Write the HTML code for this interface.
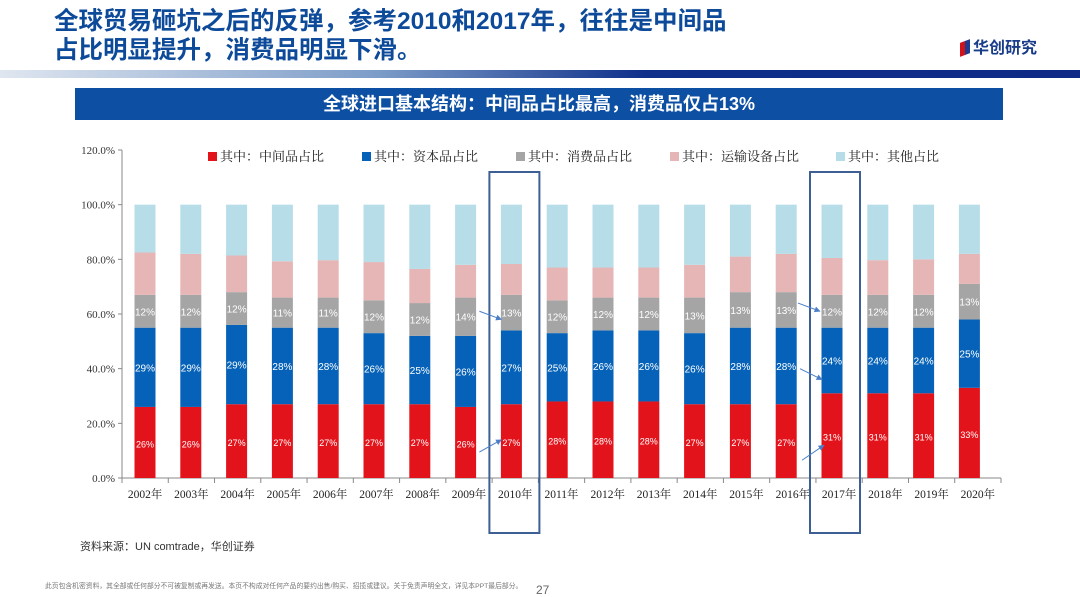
<!DOCTYPE html>
<html><head><meta charset="utf-8">
<style>
body{margin:0;width:1080px;height:597px;background:#fff;overflow:hidden;position:relative;font-family:"Liberation Sans","Noto Sans CJK SC",sans-serif}
.t{position:absolute;white-space:nowrap}
</style></head><body>
<div class="t" style="left:54px;top:7px;font-size:24.5px;line-height:29px;font-weight:bold;color:#0d4a9a;">全球贸易砸坑之后的反弹，参考2010和2017年，往往是中间品<br>占比明显提升，消费品明显下滑。</div>
<div class="t" style="left:960px;top:34px;font-size:16px;font-weight:bold;color:#1a3d8a;"><span style="display:inline-block;width:10px;height:14px;background:linear-gradient(90deg,#d0121b 50%,#1d3c8f 50%);vertical-align:-2px;margin-right:3px;transform:skewY(-20deg)"></span>华创研究</div>
<div style="position:absolute;left:0;top:70px;width:1080px;height:8px;background:linear-gradient(90deg,#dfe6f0 0%,#7c9cc8 35%,#0e2f8a 60%,#0e2a86 100%)"></div>
<div class="t" style="left:75px;top:88px;width:928px;height:32px;background:#0d4fa3;color:#fff;font-size:18px;font-weight:bold;line-height:32px;text-align:center;">全球进口基本结构：中间品占比最高，消费品仅占13%</div>
<svg id="chart" width="1080" height="597" style="position:absolute;left:0;top:0">
<defs><marker id="ah" viewBox="0 0 10 10" refX="9" refY="5" markerWidth="6" markerHeight="6" orient="auto"><path d="M0,0L10,5L0,10z" fill="#4a7fc8"/></marker></defs>
</svg>
<div class="t" style="left:80px;top:538px;font-size:11px;color:#333;">资料来源：UN comtrade，华创证券</div>
<div class="t" style="left:45px;top:580px;font-size:6.8px;color:#777;">此页包含机密资料，其全部或任何部分不可被复制或再发送。本页不构成对任何产品的要约出售/购买、招揽或建议。关于免责声明全文，详见本PPT最后部分。</div>
<div class="t" style="left:536px;top:583px;font-size:12px;color:#666;">27</div>
<script>
const years=["2002年","2003年","2004年","2005年","2006年","2007年","2008年","2009年","2010年","2011年","2012年","2013年","2014年","2015年","2016年","2017年","2018年","2019年","2020年"];
const intermediate=[26,26,27,27,27,27,27,26,27,28,28,28,27,27,27,31,31,31,33];
const capital=[29,29,29,28,28,26,25,26,27,25,26,26,26,28,28,24,24,24,25];
const consumer=[12,12,12,11,11,12,12,14,13,12,12,12,13,13,13,12,12,12,13];
const transport=[15.5,15,13.4,13.3,13.7,14,12.5,12,11.3,12,11,11,12,13,14,13.5,12.7,13,11];
const other=years.map((_,i)=>100-intermediate[i]-capital[i]-consumer[i]-transport[i]);
const yTicks=[0,20,40,60,80,100,120];
const seriesNames=["其中：中间品占比","其中：资本品占比","其中：消费品占比","其中：运输设备占比","其中：其他占比"];
const colors=["#e3131b","#0562b8","#a5a5a5","#e6b6b6","#b6dde8"];
const highlightYears=["2010年","2017年"];

const svg=document.getElementById('chart');
const NS="http://www.w3.org/2000/svg";
const x0=122,x1=1001,yb=478,yt=150;
const y=v=>yb-(v/120)*(yb-yt);
const lstep=(x1-x0)/years.length;
const bstep=45.8;
const cx=i=>145+bstep*i;
const lx_=i=>x0+lstep*(i+0.5);
const bw=21;
function mk(tag,attrs,name,txt){const e=document.createElementNS(NS,tag);for(const k in attrs)e.setAttribute(k,attrs[k]);


if(txt!==undefined)e.textContent=txt;svg.appendChild(e);return e;}
mk('line',{x1:x0,y1:yt,x2:x0,y2:yb,stroke:'#888','stroke-width':1},'y-axis-line');
mk('line',{x1:x0,y1:yb,x2:x1,y2:yb,stroke:'#888','stroke-width':1},'x-axis-line');
yTicks.forEach(t=>{
 mk('line',{x1:x0-4,y1:y(t),x2:x0,y2:y(t),stroke:'#888'},'y-tick');
 mk('text',{x:x0-7,y:y(t)+4,'text-anchor':'end','font-size':11,'font-family':'Liberation Serif,serif',fill:'#333'},'y-tick-label',t.toFixed(1)+'%');
});
for(let i=0;i<=years.length;i++)mk('line',{x1:x0+lstep*i,y1:yb,x2:x0+lstep*i,y2:yb+5,stroke:'#888'},'x-tick');
const series=[intermediate,capital,consumer,transport,other];
const labeled=[true,true,true,false,false];
years.forEach((yr,i)=>{
 let acc=0;
 series.forEach((s,k)=>{
  const v=s[i];const top=y(acc+v),bot=y(acc);
  mk('rect',{x:cx(i)-bw/2,y:top,width:bw,height:bot-top,fill:colors[k]},'bar-'+k+'-'+yr);
  if(labeled[k])mk('text',{x:cx(i),y:(top+bot)/2+(k==0?5:4),'text-anchor':'middle','font-size':k==0?9:10,fill:'#fff'},'bar-value-label',v+'%');
  acc+=v;
 });
 mk('text',{x:lx_(i),y:yb+20,'text-anchor':'middle','font-size':11.5,'font-family':'Liberation Serif,"Noto Serif CJK SC",serif',fill:'#222'},'x-tick-label',yr);
});
highlightYears.forEach(h=>{const i=years.indexOf(h);
 mk('rect',{x:cx(i)-22,y:172,width:50,height:361,fill:'none',stroke:'#3d5f94','stroke-width':2},'highlight-box-'+h);
});
function arrow(i,v1,v2,dx){mk('line',{x1:cx(i)-dx-22,y1:y(v1),x2:cx(i)-dx,y2:y(v2),stroke:'#4a7fc8','stroke-width':1,'marker-end':'url(#ah)'},'annotation-arrow');}
{const i=years.indexOf("2010年");arrow(i,61,58,10);arrow(i,9.5,14,10);}
{const i=years.indexOf("2017年");arrow(i,64,61,12);arrow(i,40,36,10);arrow(i,6.5,12,8);}
const lx=[208,362,516,670,836];
seriesNames.forEach((n,k)=>{
 mk('rect',{x:lx[k],y:152,width:9,height:9,fill:colors[k]},'legend-swatch');
 mk('text',{x:lx[k]+12,y:161,'font-size':13,'font-family':'"Noto Serif CJK SC",serif',fill:'#222'},'legend-entry',n);
});
</script>
</body></html>
